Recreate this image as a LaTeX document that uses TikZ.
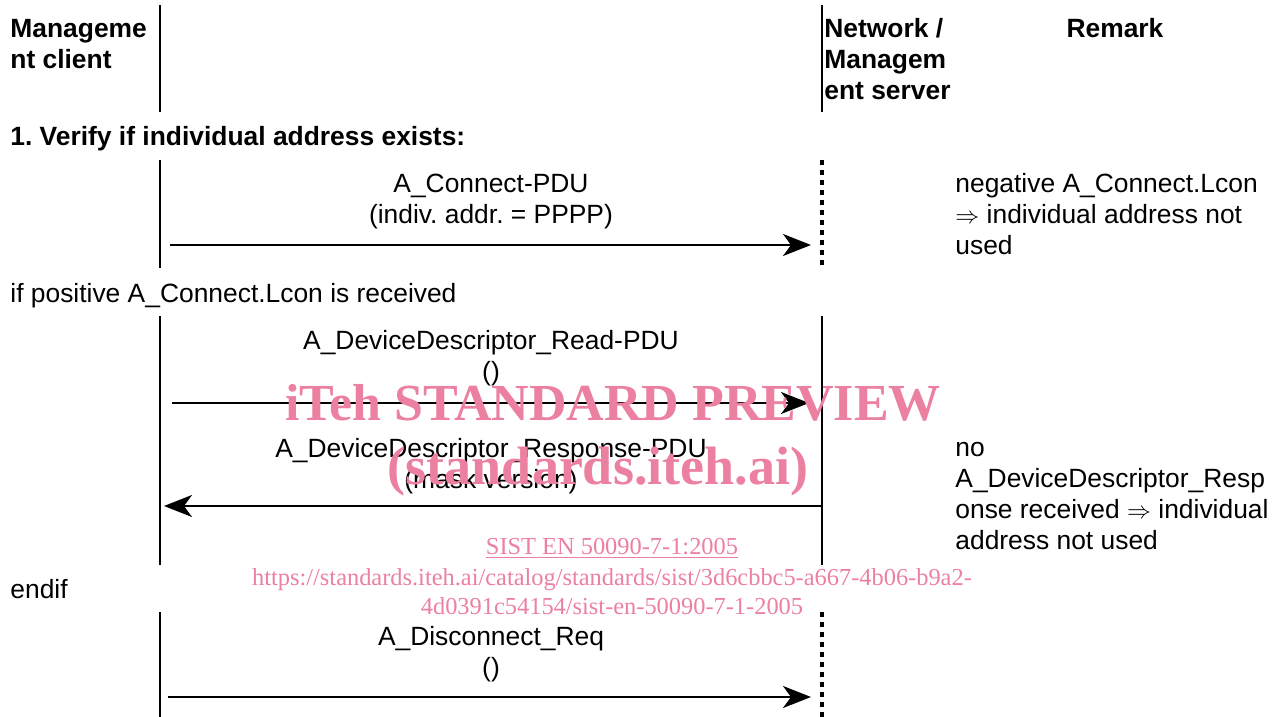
\documentclass[tikz,border=0pt]{standalone}
\usepackage{fontspec}
\setmainfont{Liberation Sans}
\newfontfamily\wmfont{Liberation Serif}
\usetikzlibrary{arrows.meta}
\frenchspacing
\definecolor{wmpink}{RGB}{236,128,160}
\tikzset{
  life/.style={line width=1pt},
  lifedot/.style={line width=1.6pt, dash pattern=on 2.5pt off 2.5pt},
  msg/.style={line width=1pt, -{Stealth[length=14pt,width=11pt,inset=4pt]}},
  txt/.style={inner sep=0pt, font=\fontsize{13.2}{15.5}\selectfont},
  btxt/.style={txt, font=\fontsize{13.2}{15.5}\selectfont\bfseries},
  wmbig/.style={inner sep=0pt, text=wmpink, font=\wmfont\fontsize{26}{30}\selectfont\bfseries},
  wmsmall/.style={inner sep=0pt, text=wmpink, font=\wmfont\fontsize{12.2}{14}\selectfont},
}
\begin{document}
\begin{tikzpicture}[x=0.5pt,y=-0.5pt]
\useasboundingbox (0,0) rectangle (1287,717);
% lifelines
\coordinate (L1a) at (160,5);   \coordinate (L1b) at (160,112);
\coordinate (L2a) at (160,160); \coordinate (L2b) at (160,268);
\coordinate (L3a) at (160,316); \coordinate (L3b) at (160,565);
\coordinate (L4a) at (160,612); \coordinate (L4b) at (160,717);
\coordinate (R1a) at (822,5);   \coordinate (R1b) at (822,112);
\coordinate (R2a) at (822,160); \coordinate (R2b) at (822,268);
\coordinate (R3a) at (822,316); \coordinate (R3b) at (822,565);
\coordinate (R4a) at (822,612); \coordinate (R4b) at (822,717);
\draw[life] (L1a) -- (L1b);
\draw[life] (L2a) -- (L2b);
\draw[life] (L3a) -- (L3b);
\draw[life] (L4a) -- (L4b);
\draw[life] (R1a) -- (R1b);
\draw[lifedot] (R2a) -- (R2b);
\draw[life] (R3a) -- (R3b);
\draw[lifedot] (R4a) -- (R4b);
% headers (base anchor = baseline of last line)
\node[btxt, anchor=base west, align=left] (hc) at (10,69) {Manageme\\nt client};
\node[btxt, anchor=base west, align=left] (hs) at (824,100) {Network /\\Managem\\ent server};
\node[btxt, anchor=base] (hr) at (1115,38) {Remark};
\node[btxt, anchor=base west] (s1) at (10,146) {1. Verify if individual address exists:};
% message 1
\node[txt, anchor=base, align=center] (m1) at (491,224) {A\_Connect-PDU\\(indiv. addr. = PPPP)};
\coordinate (a1s) at (170,245); \coordinate (a1e) at (811,245);
\draw[msg] (a1s) -- (a1e);
\node[txt, anchor=base west, align=left] (r1) at (955,255) {negative A\_Connect.Lcon\\$\Rightarrow$ individual address not\\used};
\node[txt, anchor=base west] (c1) at (10,302) {if positive A\_Connect.Lcon is received};
% message 2
\node[txt, anchor=base, align=center] (m2) at (491,380) {A\_DeviceDescriptor\_Read-PDU\\()};
\coordinate (a2s) at (172,403); \coordinate (a2e) at (809,403);
\draw[msg] (a2s) -- (a2e);
% message 3
\node[txt, anchor=base, align=center] (m3) at (491,488) {A\_DeviceDescriptor\_Response-PDU\\(mask version)};
\coordinate (a3s) at (822,506); \coordinate (a3e) at (164,506);
\draw[msg] (a3s) -- (a3e);
\node[txt, anchor=base west, align=left] (r3) at (955,549) {no\\A\_DeviceDescriptor\_Resp\\onse received $\Rightarrow$ individual\\address not used};
\node[txt, anchor=base west] (c2) at (10,598) {endif};
% message 4
\node[txt, anchor=base, align=center] (m4) at (491,676) {A\_Disconnect\_Req\\()};
\coordinate (a4s) at (168,697); \coordinate (a4e) at (811,697);
\draw[msg] (a4s) -- (a4e);
% watermark
\node[wmbig, anchor=base] (w1) at (613,420) {iTeh STANDARD PREVIEW};
\node[wmbig, anchor=base] (w2) at (598,484) {\fontsize{27}{30}\selectfont(standards.iteh.ai)};
\node[wmsmall, anchor=base] (w3) at (612,554) {\underline{SIST EN 50090-7-1:2005}};
\node[wmsmall, anchor=base] (w4) at (612,585) {https://standards.iteh.ai/catalog/standards/sist/3d6cbbc5-a667-4b06-b9a2-};
\node[wmsmall, anchor=base] (w5) at (612,614) {4d0391c54154/sist-en-50090-7-1-2005};
\end{tikzpicture}
\end{document}
